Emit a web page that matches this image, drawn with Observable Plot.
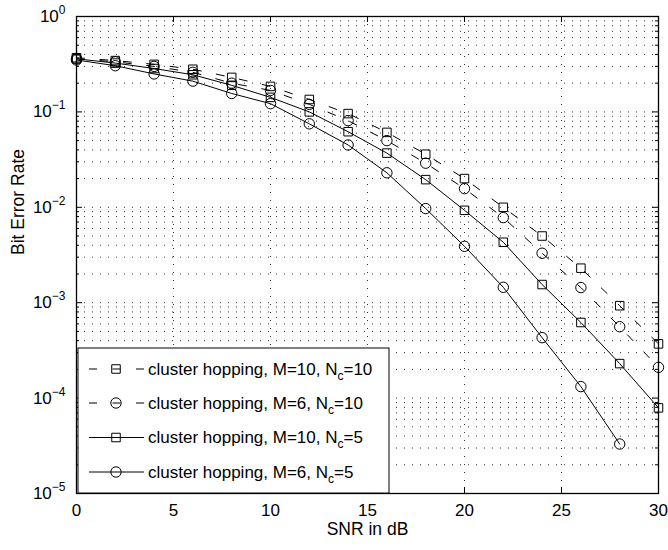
<!DOCTYPE html>
<html><head><meta charset="utf-8">
<script src="https://cdn.jsdelivr.net/npm/d3@7"></script>
<script src="https://cdn.jsdelivr.net/npm/@observablehq/plot@0.6"></script>
<style>body{margin:0;background:#fff} svg{display:block;background:#fff}</style>
</head><body><div id="chart"></div>
<script>
// ---- data ----
const snr = [0,2,4,6,8,10,12,14,16,18,20,22,24,26,28,30];
const berM10Nc10 = [0.37,0.345,0.315,0.28,0.23,0.185,0.135,0.096,0.061,0.036,0.020,0.010,0.005,0.0023,0.00093,0.00037];
const berM6Nc10  = [0.36,0.335,0.30,0.26,0.20,0.168,0.12,0.081,0.05,0.029,0.0157,0.0078,0.0033,0.00144,0.00056,0.00021];
const berM10Nc5  = [0.36,0.325,0.285,0.245,0.19,0.142,0.10,0.062,0.037,0.0195,0.0093,0.0043,0.00155,0.00062,0.00023,0.000079];
const berM6Nc5   = [0.35,0.305,0.25,0.21,0.156,0.122,0.075,0.045,0.023,0.0097,0.0039,0.00145,0.00043,0.000132,0.000033];
const xTicks = [0,5,10,15,20,25,30];
const yExponents = [0,-1,-2,-3,-4,-5];
const seriesM  = [10,6,10,6];
const seriesNc = [10,10,5,5];
const xLabel = "SNR in dB";
const yLabel = "Bit Error Rate";

// ---- styles ----
const seriesValues = [berM10Nc10, berM6Nc10, berM10Nc5, berM6Nc5];
const seriesStyle = [
  {symbol: "square", dash: "8,15.5"},
  {symbol: "circle", dash: "8,15.5"},
  {symbol: "square", dash: null},
  {symbol: "circle", dash: null}
];
const W = 668, H = 550, mL = 76, mR = 10, mT = 16, mB = 57;
const pw = W - mL - mR, ph = H - mT - mB;
const font = "'Liberation Sans', Arial, Helvetica, sans-serif";
const radius = {square: 4.8, circle: 5.2};

const seriesData = seriesValues.map(vals => vals.map((v, i) => ({x: snr[i], y: v})));

const majorY = yExponents.map(e => Math.pow(10, e));
const minorY = [];
for (let e = -5; e < 0; e++) for (let k = 2; k <= 9; k++) minorY.push(k * Math.pow(10, e));
const gridY = majorY.filter(v => v < 1 && v > 1e-5).concat(minorY);
const gridX = xTicks.filter(v => v > 0 && v < 30);

const marks = [
  Plot.ruleY(gridY, {stroke: "#000", strokeOpacity: 0.8, strokeDasharray: "1,7"}),
  Plot.ruleX(gridX, {stroke: "#000", strokeOpacity: 0.8, strokeDasharray: "1,7"}),
  // inward tick marks
  Plot.ruleY(majorY, {insetRight: pw - 6, stroke: "black"}),
  Plot.ruleY(majorY, {insetLeft: pw - 6, stroke: "black"}),
  Plot.ruleY(minorY, {insetRight: pw - 3, stroke: "black"}),
  Plot.ruleY(minorY, {insetLeft: pw - 3, stroke: "black"}),
  Plot.ruleX(xTicks, {insetTop: ph - 6, stroke: "black"}),
  Plot.ruleX(xTicks, {insetBottom: ph - 6, stroke: "black"})
];
seriesData.forEach((d, i) => {
  const st = seriesStyle[i];
  marks.push(Plot.line(d, {x: "x", y: "y", stroke: "black", strokeWidth: 1, strokeDasharray: st.dash || undefined}));
  marks.push(Plot.dot(d, {x: "x", y: "y", symbol: st.symbol, r: radius[st.symbol], stroke: "black", fill: "none", strokeWidth: 1}));
});
marks.push(
  Plot.frame({stroke: "black", strokeWidth: 1.3}),
  Plot.axisX({ticks: xTicks, tickSize: 0, tickPadding: 10, fontSize: 17, label: null}),
  Plot.axisY({ticks: majorY, tickSize: 0, tickPadding: 11, fontSize: 17, label: null,
    tickFormat: d => String(Math.round(Math.log10(d)))}),
  Plot.text([xLabel], {text: d => d, frameAnchor: "bottom", dy: 41, fontSize: 17.5}),
  Plot.text([yLabel], {text: d => d, frameAnchor: "left", dx: -58, rotate: -90, fontSize: 17.5})
);

const chart = Plot.plot({
  width: W, height: H,
  marginLeft: mL, marginRight: mR, marginTop: mT, marginBottom: mB,
  style: {fontFamily: font, fontSize: "17px", color: "black", background: "white"},
  x: {domain: [0, 30]},
  y: {type: "log", domain: [1e-5, 1]},
  marks
});
document.getElementById("chart").appendChild(chart);

// superscript exponents on y tick labels
const svg = d3.select(chart.tagName.toLowerCase() === "svg" ? chart : chart.querySelector("svg"));
svg.selectAll('g[aria-label="y-axis tick label"] text').each(function() {
  const e = this.textContent.trim();
  const t = d3.select(this);
  t.text("10");
  t.append("tspan").attr("dy", "-8").attr("font-size", "12px").text(e.replace("-", "\u2212"));
});

// legend
const lg = svg.append("g").attr("font-family", font).attr("text-anchor", "start")
  .style("text-anchor", "start");
const lx = 78, ly = 348, lw = 311, lh = 145;
lg.append("rect").attr("x", lx).attr("y", ly).attr("width", lw).attr("height", lh)
  .attr("fill", "#ffffff").style("fill", "#ffffff").attr("stroke", "black").attr("stroke-width", 1);
const rowY = [369, 403, 437.5, 472];
seriesStyle.forEach((st, i) => {
  const y = rowY[i];
  lg.append("line").attr("x1", 89).attr("x2", 144).attr("y1", y).attr("y2", y)
    .attr("stroke", "black").attr("stroke-width", 1)
    .attr("stroke-dasharray", st.dash || null);
  const sym = st.symbol === "square" ? d3.symbolSquare : d3.symbolCircle;
  const r = radius[st.symbol];
  lg.append("path").attr("d", d3.symbol(sym, Math.PI * r * r)())
    .attr("transform", `translate(116,${y})`)
    .attr("fill", "none").style("fill", "none").attr("stroke", "black").attr("stroke-width", 1);
  const tx = lg.append("text").attr("x", 148).attr("y", y).attr("dy", "0.35em")
    .attr("text-anchor", "start").style("text-anchor", "start")
    .attr("font-size", "17px").attr("fill", "black");
  tx.append("tspan").text(`cluster hopping, M=${seriesM[i]}, N`);
  tx.append("tspan").attr("font-size", "12px").attr("dy", "5").text("c");
  tx.append("tspan").attr("dy", "-5").text(`=${seriesNc[i]}`);
});
</script>
</body></html>
